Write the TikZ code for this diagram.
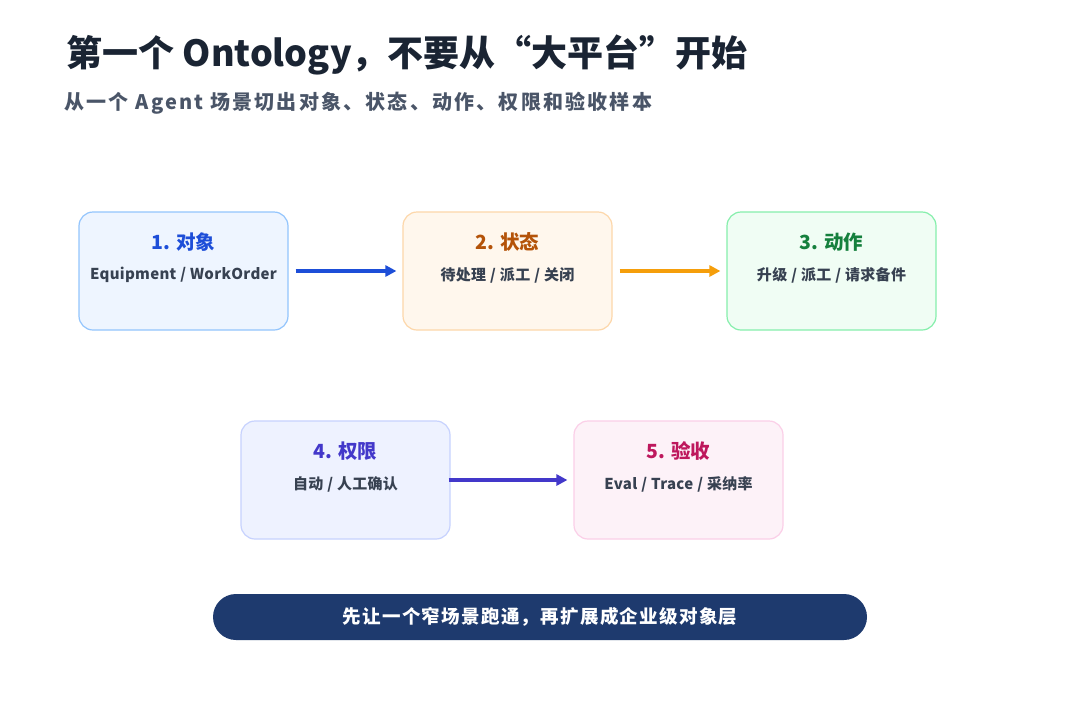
\documentclass[tikz,border=0pt]{standalone}
\usepackage{fontspec}
\setmainfont{Noto Sans CJK SC}
\usetikzlibrary{arrows.meta}
\definecolor{b1f}{HTML}{EEF5FF}\definecolor{b1d}{HTML}{93C5FD}\definecolor{b1t}{HTML}{1D4ED8}
\definecolor{b2f}{HTML}{FFF7ED}\definecolor{b2d}{HTML}{FDD7AA}\definecolor{b2t}{HTML}{B45309}
\definecolor{b3f}{HTML}{F0FDF4}\definecolor{b3d}{HTML}{86EFAC}\definecolor{b3t}{HTML}{15803D}
\definecolor{b4f}{HTML}{EEF2FF}\definecolor{b4d}{HTML}{C7D2FE}\definecolor{b4t}{HTML}{4338CA}
\definecolor{b5f}{HTML}{FDF2F8}\definecolor{b5d}{HTML}{FBCFE8}\definecolor{b5t}{HTML}{BE185D}
\definecolor{ttl}{HTML}{1A2433}\definecolor{sub}{HTML}{4A5568}\definecolor{bodyc}{HTML}{374151}
\definecolor{navy}{HTML}{1E3A6E}\definecolor{arr2}{HTML}{F59E0B}
\newcommand{\slsep}{\hspace{4pt}/\hspace{4pt}}
\begin{document}
\begin{tikzpicture}[x=1pt,y=-1pt,
 box/.style={rounded corners=14pt,line width=1.2pt,minimum width=209pt,minimum height=118pt},
 hd/.style={font=\fontsize{19.5}{22}\selectfont\bfseries},
 bd/.style={font=\fontsize{15}{17}\selectfont\bfseries\addfontfeature{LetterSpace=2},text=bodyc},
 ar/.style={line width=3.2pt,-{Triangle[length=11pt,width=11pt]}}]
\useasboundingbox[fill=white](0,0) rectangle (1080,702);
\node[anchor=west,text=ttl,font=\fontsize{36}{40}\selectfont\bfseries] (title) at (63,55) {第一个 Ontology，不要从“大平台”开始};
\node[anchor=west,text=sub,font=\fontsize{20}{23}\selectfont\bfseries\addfontfeature{LetterSpace=11}] (subt) at (61,103) {从一个 Agent 场景切出对象、状态、动作、权限和验收样本};
\node[box,fill=b1f,draw=b1d] (n1) at (183.5,271) {};
\node[box,fill=b2f,draw=b2d] (n2) at (507.5,271) {};
\node[box,fill=b3f,draw=b3d] (n3) at (831.5,271) {};
\node[box,fill=b4f,draw=b4d] (n4) at (345.5,480) {};
\node[box,fill=b5f,draw=b5d] (n5) at (678.5,480) {};
\node[hd,text=b1t] (n1h) at ([yshift=29pt]n1.center) {1. 对象};
\node[bd] (n1b) at ([yshift=-4pt]n1.center) {Equipment\slsep WorkOrder};
\node[hd,text=b2t] (n2h) at ([yshift=29pt]n2.center) {2. 状态};
\node[bd] (n2b) at ([yshift=-4pt]n2.center) {待处理\slsep 派工\slsep 关闭};
\node[hd,text=b3t] (n3h) at ([yshift=29pt]n3.center) {3. 动作};
\node[bd] (n3b) at ([yshift=-4pt]n3.center) {升级\slsep 派工\slsep 请求备件};
\node[hd,text=b4t] (n4h) at ([yshift=29pt]n4.center) {4. 权限};
\node[bd] (n4b) at ([yshift=-4pt]n4.center) {自动\slsep 人工确认};
\node[hd,text=b5t] (n5h) at ([yshift=29pt]n5.center) {5. 验收};
\node[bd] (n5b) at ([yshift=-4pt]n5.center) {Eval\slsep Trace\slsep 采纳率};
\draw[ar,draw=b1t] ([xshift=7pt]n1.east) -- ([xshift=-6pt]n2.west);
\draw[ar,draw=arr2] ([xshift=7pt]n2.east) -- ([xshift=-6pt]n3.west);
\draw[ar,draw=b4t] ([xshift=-2pt]n4.east) -- ([xshift=-6pt]n5.west);
\node[fill=navy,rounded corners=23pt,minimum width=654pt,minimum height=46pt,text=white,font=\fontsize{18.5}{20}\selectfont\bfseries\addfontfeature{LetterSpace=7}] (ban) at (540,617) {先让一个窄场景跑通，再扩展成企业级对象层};
\end{tikzpicture}
\end{document}
